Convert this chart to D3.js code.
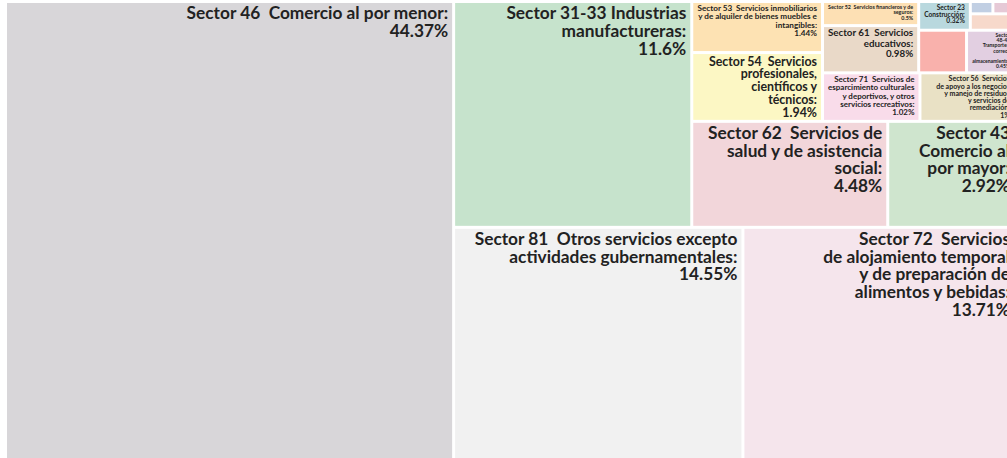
<!DOCTYPE html>
<html><head><meta charset="utf-8">
<script src="https://cdn.jsdelivr.net/npm/d3@7"></script>
<style>
html,body{margin:0;padding:0;background:#fff;overflow:hidden}
svg{display:block}
text{font-family:Lato,"Open Sans",sans-serif;font-weight:700;fill:#222;white-space:pre}
</style></head><body>
<svg id="chart" width="1007" height="458"></svg>
<script>
// Label text of each sector (lines as shown in the chart)
const labels = [
  "Sector 46  Comercio al por menor:\n44.37%",
  "Sector 81  Otros servicios excepto\nactividades gubernamentales:\n14.55%",
  "Sector 72  Servicios\nde alojamiento temporal\ny de preparación de\nalimentos y bebidas:\n13.71%",
  "Sector 31-33 Industrias\nmanufactureras:\n11.6%",
  "Sector 62  Servicios de\nsalud y de asistencia\nsocial:\n4.48%",
  "Sector 43\nComercio al\npor mayor:\n2.92%",
  "Sector 54  Servicios\nprofesionales,\ncientíficos y\ntécnicos:\n1.94%",
  "Sector 53  Servicios inmobiliarios\ny de alquiler de bienes muebles e\nintangibles:\n1.44%",
  "Sector 71  Servicios de\nesparcimiento culturales\ny deportivos, y otros\nservicios recreativos:\n1.02%",
  "Sector 56  Servicios\nde apoyo a los negocios\ny manejo de residuos\ny servicios de\nremediación:\n1%",
  "Sector 61  Servicios\neducativos:\n0.98%",
  "Sector 52  Servicios financieros y de\nseguros:\n0.5%",
  "Sector\n48-49\nTransportes,\ncorreos\ny\nalmacenamiento:\n0.45%",
  "",
  "Sector 23\nConstrucción:\n0.32%",
  "",
  "",
  ""
];
// Share of each sector (%)
const shares = [44.37, 14.55, 13.71, 11.6, 4.48, 2.92, 1.94, 1.44, 1.02, 1.0, 0.98, 0.5, 0.45, 0.44, 0.32, 0.06, 0.06, 0.16];
// Fill colour of each sector
const colors = ["#d8d6d9", "#f1f1f1", "#f5e5ec", "#c6e3cc", "#f2d6da", "#cfe5ce", "#fcf7c4", "#fde2b3",
  "#f9dcea", "#e9e1c5", "#e9d9c8", "#fde0b4", "#e2cfe1", "#f9b1ac", "#b9d8de", "#c1cfe3", "#e6c9d6", "#f7d9cb"];
// Nesting of the tiles: "d" = side by side, "s" = stacked; numbers are sector indices
const tree = ["d", 0,
  ["s",
    ["d", 3,
      ["s",
        ["d", ["s", 7, 6],
          ["s",
            ["d", ["s", 11, 10],
              ["s", ["d", 14, ["s", ["d", 15, 16], 17]], ["d", 13, 12]]],
            ["d", 8, 9]]],
        ["d", 4, 5]]],
    ["d", 1, 2]]];

const OX = 7, OY = 3, W = 1007, H = 456;
const FS_MAX = 17.3, PADX = 4, PADY = 1, LH = 1.03;

function build(t) {
  if (typeof t === "number") return {i: t, value: shares[t]};
  return {mode: t[0], children: t.slice(1).map(build)};
}
const root = d3.hierarchy(build(tree)).sum(d => d.value || 0);
const tile = (node, x0, y0, x1, y1) =>
  (node.data.mode === "s" ? d3.treemapSlice : d3.treemapDice)(node, x0, y0, x1, y1);
d3.treemap().tile(tile).size([W, H]).paddingInner(3)(root);

const svg = d3.select("#chart");
const g = svg.append("g").attr("transform", `translate(${OX},${OY})`);
const leaves = root.leaves();

const cell = g.selectAll("g.cell").data(leaves).join("g").attr("class", "cell");
cell.append("rect")
  .attr("x", d => d.x0).attr("y", d => d.y0)
  .attr("width", d => d.x1 - d.x0).attr("height", d => d.y1 - d.y0)
  .attr("fill", d => colors[d.data.i]);

// measure helper
const meas = svg.append("text").attr("font-size", 10);
function widthAt10(s) { meas.text(s); return meas.node().getComputedTextLength(); }

cell.each(function(d) {
  const txt = labels[d.data.i];
  if (!txt) return;
  const lines = txt.split("\n");
  const w = d.x1 - d.x0, h = d.y1 - d.y0;
  const maxW = d3.max(lines, widthAt10);
  const fs = Math.min(FS_MAX, (w - 2 * PADX) * 10 / maxW, (h - 2 * PADY) / (lines.length * LH));
  const t = d3.select(this).append("text")
    .attr("font-size", fs)
    .attr("text-anchor", "end");
  lines.forEach((ln, k) => {
    t.append("tspan")
      .attr("x", d.x1 - PADX)
      .attr("y", d.y0 + PADY + 0.86 * fs + k * fs * LH)
      .text(ln);
  });
});
meas.remove();
</script>
</body></html>
